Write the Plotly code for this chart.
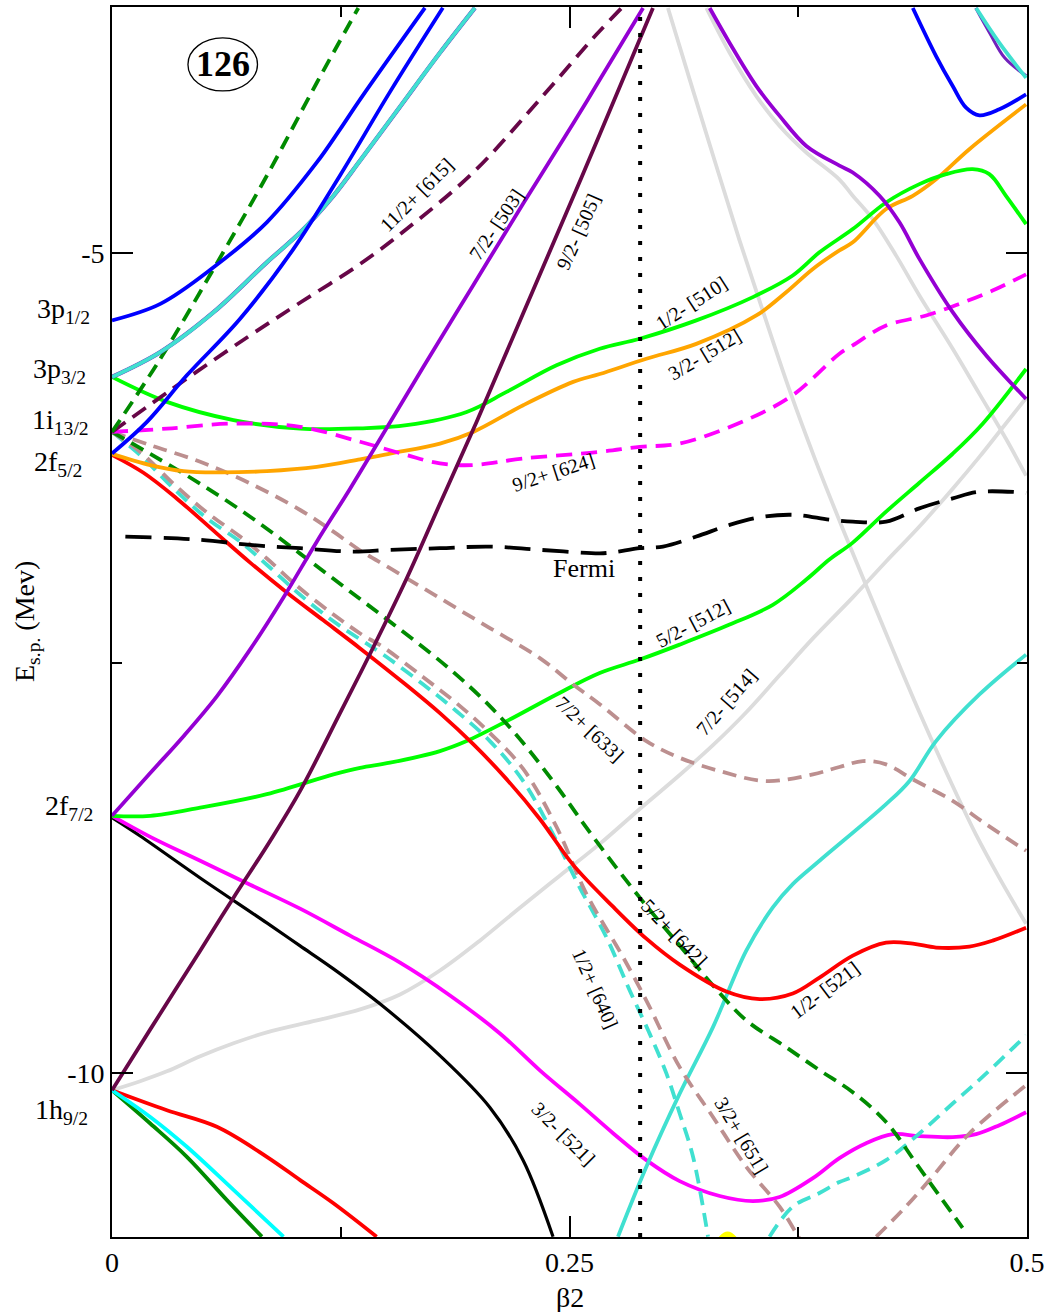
import plotly.graph_objects as go

# ---------------- data (beta2, E in MeV) ----------------
blue_a_x = [0, 0.0264, 0.0555, 0.0846, 0.1119, 0.1246, 0.1356, 0.171]
blue_a_y = [-5.411, -5.310, -5.087, -4.813, -4.448, -4.246, -4.063, -3.505]
blue_b_x = [0, 0.0191, 0.0409, 0.070, 0.0991, 0.1246, 0.152, 0.1808]
blue_b_y = [-6.223, -6.030, -5.746, -5.401, -4.976, -4.527, -4.016, -3.505]
blue_c_x = [0.4376, 0.4503, 0.4594, 0.4667, 0.474, 0.4849, 0.4995]
blue_c_y = [-3.506, -3.799, -3.982, -4.114, -4.161, -4.124, -4.033]

turq_a_x = [0, 0.0264, 0.0555, 0.0846, 0.1029, 0.121, 0.1356, 0.1574, 0.1792, 0.1983]
turq_a_y = [-5.756, -5.604, -5.361, -5.057, -4.874, -4.651, -4.436, -4.108, -3.779, -3.505]
turq_b_x = [0.4722, 0.4849, 0.4995]
turq_b_y = [-3.506, -3.719, -3.932]
turq_c_x = [0.2765, 0.292, 0.3102, 0.3284, 0.3466, 0.3611, 0.372, 0.3866, 0.423, 0.4358, 0.4503, 0.474, 0.4995]
turq_c_y = [-10.998, -10.572, -10.126, -9.720, -9.254, -8.990, -8.848, -8.706, -8.361, -8.219, -7.976, -7.692, -7.449]
violet_top_x = [0.4720, 0.4796, 0.4878, 0.4995]
violet_top_y = [-3.506, -3.658, -3.810, -3.919]

g4_up_x = [0, 0.0264, 0.0555, 0.0846, 0.1119, 0.1346]
g4_up_y = [-6.091, -5.645, -5.097, -4.529, -3.962, -3.506]

maroon_d_x = [0, 0.0409, 0.0755, 0.1029, 0.1356, 0.161, 0.1974, 0.2338, 0.2647, 0.2785]
maroon_d_y = [-6.091, -5.766, -5.502, -5.302, -5.067, -4.854, -4.509, -4.063, -3.668, -3.506]

mag_d_x = [0, 0.030, 0.0664, 0.1028, 0.1356, 0.161, 0.1792, 0.1974, 0.2247, 0.2665, 0.2884, 0.3102,
           0.3466, 0.372, 0.3975, 0.4048, 0.423, 0.4449, 0.463, 0.4812, 0.4995]
mag_d_y = [-6.091, -6.071, -6.040, -6.060, -6.151, -6.232, -6.283, -6.293, -6.253, -6.213, -6.182, -6.162,
           -6.018, -5.867, -5.614, -5.563, -5.442, -5.381, -5.310, -5.229, -5.130]

lime_a_x = [0, 0.030, 0.0664, 0.1028, 0.1356, 0.161, 0.1938, 0.2156, 0.2429, 0.2665, 0.2884, 0.3193,
            0.3502, 0.372, 0.3866, 0.4048, 0.423, 0.4412, 0.4558, 0.4703, 0.4794, 0.4885, 0.4995]
lime_a_y = [-5.756, -5.908, -6.019, -6.071, -6.069, -6.050, -5.969, -5.847, -5.685, -5.584, -5.523, -5.411,
            -5.269, -5.137, -4.996, -4.854, -4.692, -4.580, -4.519, -4.489, -4.519, -4.651, -4.824]

orange_x = [0, 0.0209, 0.0391, 0.0573, 0.0846, 0.1119, 0.1356, 0.1519, 0.1792, 0.1974, 0.2247, 0.252,
            0.2665, 0.292, 0.3193, 0.3521, 0.3684, 0.383, 0.3975, 0.4048, 0.423, 0.4376, 0.4503, 0.4685, 0.4995]
orange_y = [-6.225, -6.293, -6.330, -6.338, -6.330, -6.304, -6.258, -6.223, -6.162, -6.091, -5.928, -5.786,
            -5.738, -5.645, -5.554, -5.381, -5.239, -5.097, -4.984, -4.935, -4.732, -4.651, -4.550, -4.367, -4.094]

red_a_x = [0, 0.0172, 0.0355, 0.0573, 0.0755, 0.0955, 0.1155, 0.1356, 0.161, 0.1792, 0.1974, 0.2156, 0.2338,
           0.252, 0.2738, 0.292, 0.3102, 0.3357, 0.3539, 0.372, 0.3866, 0.4048, 0.423, 0.4376, 0.4503, 0.4685,
           0.4812, 0.4995]
red_a_y = [-6.231, -6.340, -6.498, -6.711, -6.888, -7.070, -7.240, -7.411, -7.636, -7.806, -7.995, -8.208, -8.451,
           -8.731, -8.986, -9.181, -9.339, -9.503, -9.549, -9.515, -9.418, -9.284, -9.205, -9.211, -9.235, -9.229,
           -9.193, -9.114]

brown_a_x = [0, 0.0209, 0.0482, 0.0755, 0.1028, 0.121, 0.1356, 0.1519, 0.1792, 0.2065, 0.2338, 0.252, 0.2665,
             0.292, 0.3102, 0.3321, 0.3575, 0.383, 0.3975, 0.4103, 0.423, 0.4376, 0.4594, 0.4776, 0.4995]
brown_a_y = [-6.091, -6.172, -6.273, -6.405, -6.567, -6.699, -6.814, -6.922, -7.105, -7.287, -7.470, -7.631, -7.751,
             -7.976, -8.078, -8.159, -8.220, -8.179, -8.134, -8.098, -8.118, -8.209, -8.341, -8.483, -8.645]

g4_dn_x = [0, 0.0209, 0.0482, 0.0755, 0.1028, 0.1301, 0.1574, 0.1847, 0.2065, 0.2247, 0.2429, 0.2629, 0.2884,
           0.3102, 0.3284, 0.3466, 0.3684, 0.3866, 0.4048, 0.423, 0.4412, 0.4648]
g4_dn_y = [-6.091, -6.225, -6.407, -6.608, -6.833, -7.064, -7.295, -7.538, -7.763, -7.988, -8.250, -8.560, -8.931,
           -9.223, -9.466, -9.679, -9.843, -9.983, -10.117, -10.299, -10.579, -10.944]

turq_d_x = [0, 0.0154, 0.0336, 0.0519, 0.070, 0.0846, 0.1028, 0.121, 0.1356, 0.1483, 0.1701, 0.1883, 0.2065,
            0.2247, 0.2429, 0.2556, 0.2702, 0.2829, 0.2938, 0.303, 0.3102, 0.3175, 0.3257]
turq_d_y = [-6.091, -6.232, -6.436, -6.618, -6.760, -6.901, -7.084, -7.246, -7.356, -7.449, -7.631, -7.794, -7.976,
            -8.220, -8.585, -8.869, -9.173, -9.497, -9.760, -10.004, -10.247, -10.511, -10.998]

brown_b_x = [0, 0.0154, 0.0336, 0.0519, 0.070, 0.0846, 0.1028, 0.121, 0.1356, 0.1483, 0.1701, 0.1883, 0.2065,
             0.2247, 0.2429, 0.2593, 0.2793, 0.292, 0.3102, 0.3284, 0.3466, 0.3648, 0.3739, 0.3768]
brown_b_y = [-6.091, -6.212, -6.407, -6.583, -6.729, -6.863, -7.046, -7.204, -7.320, -7.404, -7.587, -7.745, -7.927,
             -8.146, -8.499, -8.909, -9.294, -9.558, -9.964, -10.268, -10.572, -10.815, -10.977, -11.03]

turq_e_x = [0.3593, 0.372, 0.3866, 0.3975, 0.4048, 0.423, 0.4412, 0.4594, 0.4776, 0.4995]
turq_e_y = [-10.998, -10.815, -10.732, -10.665, -10.633, -10.531, -10.369, -10.186, -10.004, -9.771]

brown_c_x = [0.4176, 0.4321, 0.4467, 0.4685, 0.4995]
brown_c_y = [-10.998, -10.835, -10.653, -10.369, -10.075]

mag_s_x = [0, 0.0209, 0.0482, 0.0755, 0.1028, 0.1301, 0.1574, 0.1847, 0.212, 0.2338, 0.2556, 0.2738, 0.292,
           0.3102, 0.3321, 0.3502, 0.3648, 0.383, 0.3975, 0.4121, 0.4266, 0.4412, 0.4594, 0.4722, 0.4849, 0.4995]
mag_s_y = [-8.432, -8.560, -8.706, -8.852, -8.998, -9.162, -9.327, -9.527, -9.759, -9.984, -10.190, -10.367, -10.531,
           -10.659, -10.750, -10.781, -10.756, -10.641, -10.519, -10.428, -10.373, -10.385, -10.391, -10.373,
           -10.318, -10.239]

black_x = [0, 0.0154, 0.0482, 0.0846, 0.1028, 0.121, 0.1464, 0.1792, 0.2065, 0.2247, 0.241]
black_y = [-8.443, -8.555, -8.811, -9.085, -9.225, -9.365, -9.578, -9.894, -10.210, -10.533, -10.998]

lime_b_x = [0, 0.0209, 0.0482, 0.0846, 0.121, 0.1356, 0.1519, 0.1792, 0.1938, 0.2156, 0.2429, 0.2665, 0.2884,
            0.3102, 0.3375, 0.3611, 0.3794, 0.392, 0.4048, 0.423, 0.4412, 0.4594, 0.4758, 0.4995]
lime_b_y = [-8.432, -8.432, -8.382, -8.300, -8.179, -8.139, -8.108, -8.037, -7.976, -7.855, -7.692, -7.561, -7.479,
            -7.388, -7.266, -7.145, -6.991, -6.869, -6.766, -6.577, -6.401, -6.224, -6.041, -5.707]

violet_a_x = [0, 0.0209, 0.0391, 0.0573, 0.0755, 0.0937, 0.1119, 0.1301, 0.1537, 0.1701, 0.1974,
              0.2247, 0.252, 0.2665, 0.2902]
violet_a_y = [-8.432, -8.171, -7.946, -7.703, -7.417, -7.100, -6.760, -6.437, -6.000, -5.695, -5.196,
              -4.698, -4.211, -3.944, -3.506]

maroon_s_x = [0, 0.0209, 0.0482, 0.0664, 0.0864, 0.1028, 0.1246, 0.1428, 0.161, 0.1792, 0.1992,
              0.2247, 0.2484, 0.2665, 0.2956]
maroon_s_y = [-10.105, -9.734, -9.254, -8.931, -8.585, -8.280, -7.806, -7.404, -6.985, -6.529, -6.030,
              -5.367, -4.752, -4.278, -3.506]

grey_a_x = [0, 0.0154, 0.030, 0.0482, 0.0664, 0.0846, 0.1119, 0.1356, 0.1574, 0.1792, 0.201, 0.2229, 0.2447,
            0.2665, 0.2884, 0.3102, 0.3284, 0.3466, 0.3648, 0.383, 0.4048, 0.423, 0.4412, 0.4594, 0.474,
            0.4849, 0.4995]
grey_a_y = [-10.105, -10.050, -9.990, -9.898, -9.819, -9.752, -9.679, -9.612, -9.521, -9.375, -9.193, -8.992,
            -8.797, -8.603, -8.390, -8.183, -8.001, -7.800, -7.575, -7.350, -7.100, -6.881, -6.668, -6.437,
            -6.243, -6.090, -5.884]

grey_b_x = [0.3038, 0.3157, 0.3293, 0.3429, 0.3566, 0.3702, 0.3839, 0.3993, 0.4139, 0.4266, 0.4412, 0.4594,
            0.4722, 0.4849, 0.4995]
grey_b_y = [-3.506, -3.943, -4.436, -4.923, -5.385, -5.835, -6.249, -6.681, -7.076, -7.417, -7.800, -8.250,
            -8.548, -8.810, -9.090]

grey_c_x = [0.3248, 0.3375, 0.3521, 0.3648, 0.3794, 0.3975, 0.4048, 0.4157, 0.4285, 0.4412, 0.4594, 0.474,
            0.4885, 0.4995]
grey_c_y = [-3.506, -3.779, -4.043, -4.225, -4.387, -4.552, -4.651, -4.793, -5.016, -5.259, -5.584, -5.859,
            -6.133, -6.358]

violet_b_x = [0.3266, 0.3375, 0.3521, 0.3648, 0.3794, 0.3975, 0.4048, 0.4194, 0.4303, 0.4412, 0.4594, 0.4776, 0.4995]
violet_b_y = [-3.506, -3.719, -3.982, -4.164, -4.347, -4.467, -4.509, -4.651, -4.813, -5.036, -5.361, -5.624, -5.890]

fermi_x = [0.0073, 0.0482, 0.0755, 0.1028, 0.1319, 0.1519, 0.1792, 0.2065, 0.2338, 0.2665, 0.2738, 0.2884,
           0.3011, 0.3193, 0.3375, 0.3557, 0.3739, 0.392, 0.4048, 0.423, 0.4412, 0.4594, 0.474, 0.4995]
fermi_y = [-6.729, -6.749, -6.780, -6.800, -6.821, -6.810, -6.800, -6.790, -6.810, -6.831, -6.825, -6.800,
           -6.790, -6.729, -6.658, -6.608, -6.597, -6.626, -6.638, -6.638, -6.557, -6.496, -6.456, -6.462]

red_b_x = [0, 0.030, 0.0573, 0.0846, 0.1028, 0.121, 0.1446]
red_b_y = [-10.105, -10.227, -10.328, -10.511, -10.653, -10.794, -10.998]
cyan_x = [0, 0.0209, 0.0409, 0.0664, 0.0937]
cyan_y = [-10.105, -10.268, -10.450, -10.713, -10.998]
g4_s_x = [0, 0.0209, 0.0409, 0.0628, 0.0819]
g4_s_y = [-10.105, -10.308, -10.511, -10.775, -10.998]

yellow_x = [0.3293, 0.3364, 0.3435]
yellow_y = [-11.06, -10.985, -11.06]

fermi_beta = 0.2886

# spherical level labels: text, label centre energy, right edge (px from left of figure)
sph_text = ["3p<sub>1/2</sub>", "3p<sub>3/2</sub>", "1i<sub>13/2</sub>", "2f<sub>5/2</sub>",
            "2f<sub>7/2</sub>", "1h<sub>9/2</sub>"]
sph_E = [-5.350, -5.714, -6.030, -6.286, -8.382, -10.237]
sph_right = [92, 88, 91, 84, 95, 90]

# orbital labels
orb_text = ["11/2+ [615]", "7/2- [503]", "9/2- [505]", "1/2- [510]", "3/2- [512]", "9/2+ [624]",
            "5/2- [512]", "7/2- [514]", "7/2+ [633]", "5/2+ [642]", "1/2+ [640]", "1/2- [521]",
            "3/2- [521]", "3/2+ [651]"]
orb_x = [0.1665, 0.2102, 0.2551, 0.3166, 0.3239, 0.2414, 0.3178, 0.3357, 0.2611, 0.3075, 0.2644, 0.3893,
         0.2469, 0.3439]
orb_y = [-4.649, -4.824, -4.868, -5.304, -5.614, -6.338, -7.259, -7.737, -7.903, -9.144, -9.485, -9.491,
         -10.373, -10.379]
orb_ang = [-45, -56, -66, -33, -31, -18, -28, -49, 43.5, 46, 66, -37, 45, 59]

# ---------------- colours (xmgrace palette) ----------------
BLUE = "#0000FF"; TURQ = "#40E0D0"; G4 = "#008B00"; LIME = "#00FF00"; MAROON = "#670748"
MAG = "#FF00FF"; ORANGE = "#FFA500"; RED = "#FF0000"; BROWN = "#BC8F8F"; GREY = "#DCDCDC"
VIOLET = "#9400D3"; INDIGO = "#7221BC"; CYAN = "#00FFFF"; BLACK = "#000000"; YELLOW = "#FFFF00"

fig = go.Figure()

LW = 3.8

def add(x, y, color, width=LW, dash="solid"):
    fig.add_trace(go.Scatter(x=x, y=y, mode="lines", showlegend=False, hoverinfo="skip",
                             line=dict(color=color, width=width, dash=dash, shape="spline", smoothing=1.0)))

D = "14px,8px"
add(yellow_x, yellow_y, YELLOW, 6)
add(grey_a_x, grey_a_y, GREY)
add(grey_b_x, grey_b_y, GREY)
add(grey_c_x, grey_c_y, GREY)
add(red_b_x, red_b_y, RED)
add(g4_s_x, g4_s_y, G4)
add(cyan_x, cyan_y, CYAN)
add(black_x, black_y, BLACK, 3.2)
add(mag_s_x, mag_s_y, MAG)
add(lime_b_x, lime_b_y, LIME)
add(turq_c_x, turq_c_y, TURQ)
add(turq_e_x, turq_e_y, TURQ, LW, D)
add(brown_c_x, brown_c_y, BROWN, LW, D)
add(brown_a_x, brown_a_y, BROWN, LW, D)
add(turq_d_x, turq_d_y, TURQ, LW, D)
add(brown_b_x, brown_b_y, BROWN, LW, D)
add(g4_dn_x, g4_dn_y, G4, LW, D)
add(red_a_x, red_a_y, RED)
add(fermi_x, fermi_y, BLACK, LW, "26px,12px")
add(orange_x, orange_y, ORANGE)
add(lime_a_x, lime_a_y, LIME)
add(mag_d_x, mag_d_y, MAG, LW, "16px,9px")
add(violet_a_x, violet_a_y, VIOLET)
add(maroon_s_x, maroon_s_y, MAROON)
add(maroon_d_x, maroon_d_y, MAROON, LW, "16px,9px")
add(g4_up_x, g4_up_y, G4, LW, D)
add(turq_a_x, turq_a_y, INDIGO, 4.3)
add(turq_a_x, turq_a_y, TURQ, LW)
add(blue_b_x, blue_b_y, BLUE)
add(blue_a_x, blue_a_y, BLUE)
add(violet_b_x, violet_b_y, VIOLET)
add(violet_top_x, violet_top_y, INDIGO, 3)
add(turq_b_x, turq_b_y, TURQ)
add(blue_c_x, blue_c_y, BLUE)

# Fermi deformation dotted line
fig.add_trace(go.Scatter(x=[fermi_beta, fermi_beta], y=[-11, -3.5], mode="lines", showlegend=False,
                         hoverinfo="skip", line=dict(color=BLACK, width=4, dash="4px,12px")))

SERIF = "Liberation Serif"
L, R, T, B = 112, 23, 5, 75
W, H = 1050, 1312
pw = W - L - R

for t, e, r in zip(sph_text, sph_E, sph_right):
    fig.add_annotation(x=(r - L) / pw, xref="paper", y=e, yref="y", text=t, showarrow=False,
                       xanchor="right", yanchor="middle", font=dict(family=SERIF, size=28, color="black"))

for t, x, y, a in zip(orb_text, orb_x, orb_y, orb_ang):
    fig.add_annotation(x=x, y=y, text=t, showarrow=False, textangle=a, xanchor="center", yanchor="middle",
                       font=dict(family=SERIF, size=20, color="black"))

fig.add_annotation(x=0.2578, y=-6.925, text="Fermi", showarrow=False,
                   font=dict(family=SERIF, size=26, color="black"))

# 126 in an ellipse
fig.add_shape(type="circle", xref="x", yref="y", x0=0.0415, x1=0.0795, y0=-4.012, y1=-3.688,
              line=dict(color="black", width=1.3))
fig.add_annotation(x=0.0605, y=-3.85, text="<b>126</b>", showarrow=False,
                   font=dict(family=SERIF, size=36, color="black"))

# axis titles
fig.add_annotation(x=0.5, xref="paper", y=-0.049, yref="paper", text="β2", showarrow=False,
                   yanchor="middle", font=dict(family=SERIF, size=28, color="black"))
fig.add_annotation(x=(26 - L) / pw, xref="paper", y=0.5, yref="paper", text="E<sub>s.p.</sub> (Mev)",
                   textangle=-90, showarrow=False, xanchor="center", yanchor="middle",
                   font=dict(family=SERIF, size=28, color="black"))

axis_common = dict(showgrid=False, zeroline=False, showline=True, linecolor="black", linewidth=1.6,
                   mirror="allticks", ticks="inside", ticklen=21, tickwidth=1.5, tickcolor="black",
                   tickfont=dict(family=SERIF, size=28, color="black"))

fig.update_layout(
    width=W, height=H, margin=dict(l=L, r=R, t=T, b=B),
    paper_bgcolor="white", plot_bgcolor="white",
    xaxis=dict(range=[0, 0.5], tickvals=[0, 0.25, 0.5], ticktext=["0", "0.25", "0.5"],
               minor=dict(tickvals=[0.125, 0.375], ticks="inside", ticklen=10, tickwidth=1.5, tickcolor="black"),
               **axis_common),
    yaxis=dict(range=[-11, -3.5], tickvals=[-10, -5], ticktext=["-10", "-5"],
               minor=dict(tickvals=[-7.5], ticks="inside", ticklen=10, tickwidth=1.5, tickcolor="black"),
               **axis_common),
)

fig.write_html("out.html", config={"displayModeBar": False},
               post_script="document.body.style.margin='0px';")
